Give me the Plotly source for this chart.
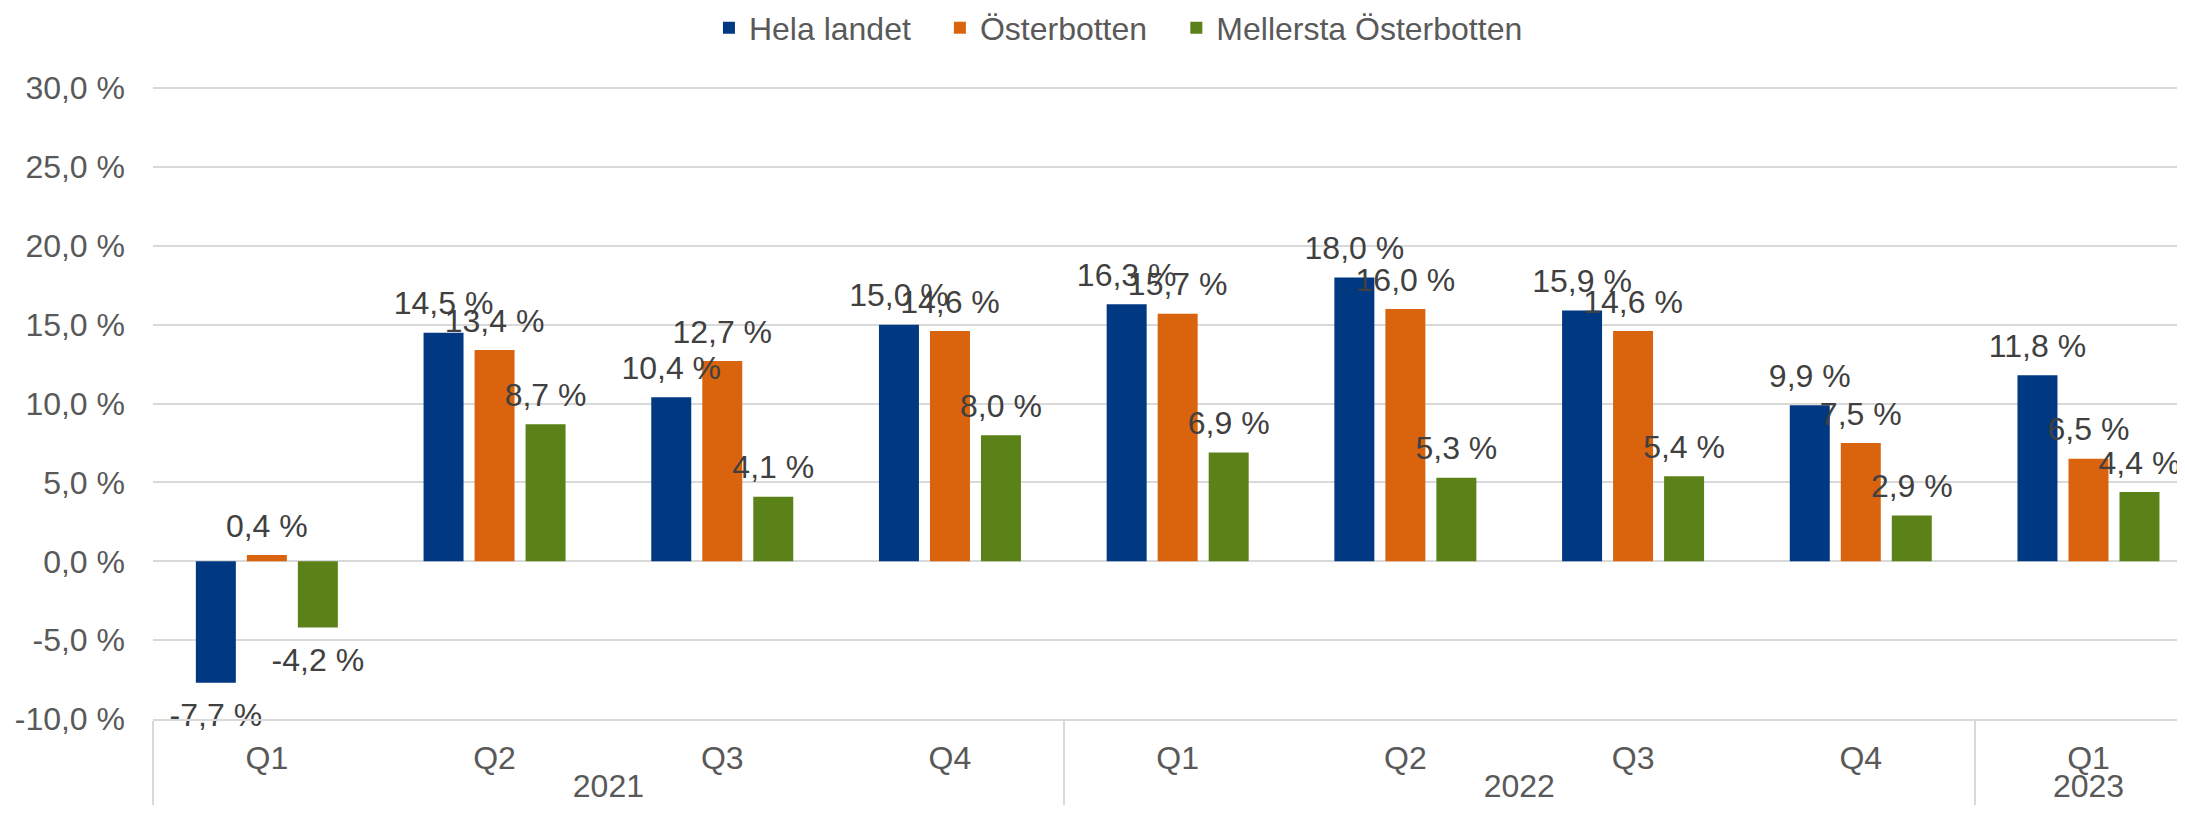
import plotly.graph_objects as go

# Data
years = ["2021", "2021", "2021", "2021", "2022", "2022", "2022", "2022", "2023"]
quarters = ["Q1", "Q2", "Q3", "Q4", "Q1", "Q2", "Q3", "Q4", "Q1"]

series_names = ["Hela landet", "Österbotten", "Mellersta Österbotten"]
hela_landet = [-7.7, 14.5, 10.4, 15.0, 16.3, 18.0, 15.9, 9.9, 11.8]
osterbotten = [0.4, 13.4, 12.7, 14.6, 15.7, 16.0, 14.6, 7.5, 6.5]
mellersta = [-4.2, 8.7, 4.1, 8.0, 6.9, 5.3, 5.4, 2.9, 4.4]

y_tickvals = [-10, -5, 0, 5, 10, 15, 20, 25, 30]
y_ticktext = ["-10,0 %", "-5,0 %", "0,0 %", "5,0 %", "10,0 %",
              "15,0 %", "20,0 %", "25,0 %", "30,0 %"]

colors = ["#003882", "#DA640E", "#5B8219"]
font_family = "Liberation Sans, Arial, sans-serif"
fs = 32


def pct_label(v):
    return f"{v:.1f} %".replace(".", ",")


fig = go.Figure()
all_series = [hela_landet, osterbotten, mellersta]
legend_ids = ["legend", "legend2", "legend3"]
for name, values, color, lg in zip(series_names, all_series, colors, legend_ids):
    fig.add_trace(go.Bar(
        x=[years, quarters],
        y=values,
        name=name,
        legend=lg,
        marker=dict(color=color, line=dict(width=0)),
        hoverinfo="skip",
    ))

# data labels: invisible markers grouped like the bars, text above/below
for name, values in zip(series_names, all_series):
    fig.add_trace(go.Scatter(
        x=[years, quarters],
        y=values,
        mode="markers+text",
        text=[pct_label(v) for v in values],
        textposition=["top center" if v >= 0 else "bottom center" for v in values],
        marker=dict(size=[15 if v >= 0 else 30 for v in values], opacity=0),
        textfont=dict(family=font_family, size=fs, color="#404040"),
        cliponaxis=False,
        showlegend=False,
        hoverinfo="skip",
    ))

legend_style = dict(
    orientation="h",
    xref="container",
    yref="container",
    xanchor="left",
    y=0.976,
    yanchor="middle",
    font=dict(size=fs, color="#595959"),
    itemwidth=30,
)

fig.update_layout(
    width=2185,
    height=829,
    margin=dict(l=145, r=0, t=79, b=118),
    paper_bgcolor="white",
    plot_bgcolor="white",
    barmode="group",
    bargap=0.328,
    bargroupgap=0.216,
    scattermode="group",
    scattergap=0.328,
    font=dict(family=font_family, size=fs, color="#595959"),
    showlegend=True,
    legend=dict(legend_style, x=0.3208),
    legend2=dict(legend_style, x=0.4265),
    legend3=dict(legend_style, x=0.5347),
    xaxis=dict(
        type="multicategory",
        range=[-0.5, 8.459],
        showgrid=False,
        showline=True,
        linecolor="#D9D9D9",
        linewidth=2,
        ticks="",
        showdividers=True,
        dividercolor="#D9D9D9",
        dividerwidth=2,
        ticklabelstandoff=10,
        tickfont=dict(size=fs, color="#595959"),
    ),
    yaxis=dict(
        range=[-10, 30.08],
        tickvals=y_tickvals,
        ticktext=y_ticktext,
        showgrid=True,
        gridcolor="#D9D9D9",
        gridwidth=2,
        zeroline=True,
        zerolinecolor="#D9D9D9",
        zerolinewidth=2,
        ticks="",
        ticklabelstandoff=27,
        tickfont=dict(size=fs, color="#595959"),
    ),
)

fig.write_html("out.html")
